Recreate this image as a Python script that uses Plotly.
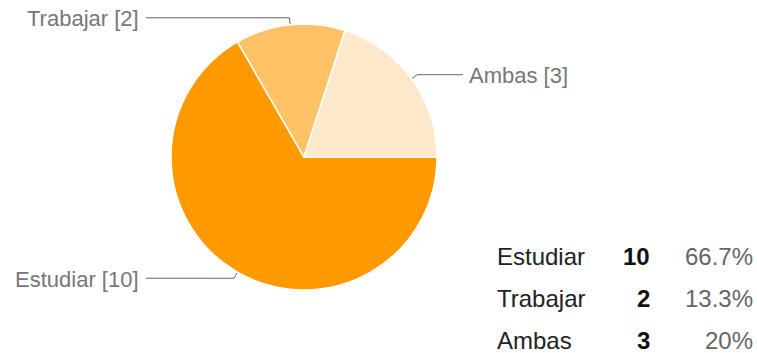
import math
import plotly.graph_objects as go

labels = ["Estudiar", "Trabajar", "Ambas"]
values = [10, 2, 3]
colors = ["#FF9900", "#FFC266", "#FFE8CC"]

W, H = 757, 353
cx, cy, r = 304, 157, 133  # pie centre / radius in pixels

total = sum(values)
fig = go.Figure()

fig.add_trace(go.Pie(
    labels=labels, values=values, sort=False, direction="clockwise",
    rotation=90, textinfo="none", hoverinfo="label+value+percent",
    marker=dict(colors=colors, line=dict(color="white", width=1.5)),
    domain=dict(x=[(cx - r) / W, (cx + r) / W],
                y=[(H - cy - r) / H, (H - cy + r) / H]),
    showlegend=False,
))

# leader lines + outside labels, positioned from slice mid angles
annotations = []
start = 0.0  # degrees, counter-clockwise from east, slices go clockwise
for lab, val in zip(labels, values):
    sweep = 360.0 * val / total
    mid = math.radians(start - sweep / 2)
    start -= sweep
    ex, ey = cx + r * math.cos(mid), cy - r * math.sin(mid)
    kx, ky = cx + (r + 7) * math.cos(mid), cy - (r + 7) * math.sin(mid)
    right = math.cos(mid) > 0
    endx = 463 if right else 146
    fig.add_trace(go.Scatter(
        x=[ex, kx, endx], y=[ey, ky, ky], mode="lines",
        line=dict(color="#666666", width=1), hoverinfo="skip", showlegend=False,
    ))
    annotations.append(dict(
        x=endx + (4 if right else -5), y=ky + 1, xref="x", yref="y",
        text=f"{lab} [{val}]", showarrow=False,
        xanchor="left" if right else "right", yanchor="middle",
        font=dict(family="Liberation Sans, Arial", size=22, color="#777777"),
    ))

# summary table bottom right
row_y = [256, 298, 340]
tfont = "Liberation Sans, Arial"
for lab, val, yy in zip(labels, values, row_y):
    pct = round(100.0 * val / total, 1)
    pct_txt = (f"{pct:.0f}" if pct == int(pct) else f"{pct:.1f}") + "%"
    annotations.append(dict(x=495, y=yy, xref="x", yref="y", text=lab,
                            showarrow=False, xanchor="left", yanchor="middle",
                            font=dict(family=tfont, size=24, color="#222222")))
    annotations.append(dict(x=652, y=yy, xref="x", yref="y", text=f"<b>{val}</b>",
                            showarrow=False, xanchor="right", yanchor="middle",
                            font=dict(family=tfont, size=24, color="#111111")))
    annotations.append(dict(x=755, y=yy, xref="x", yref="y", text=pct_txt,
                            showarrow=False, xanchor="right", yanchor="middle",
                            font=dict(family=tfont, size=24, color="#666666")))

fig.update_layout(
    width=W, height=H, margin=dict(l=0, r=0, t=0, b=0),
    paper_bgcolor="white", plot_bgcolor="rgba(0,0,0,0)",
    xaxis=dict(range=[0, W], visible=False, fixedrange=True),
    yaxis=dict(range=[H, 0], visible=False, fixedrange=True),
    annotations=annotations,
)

fig.write_html("out.html", config={"displayModeBar": False},
               post_script="document.body.style.margin='0';document.body.style.overflow='hidden';")
